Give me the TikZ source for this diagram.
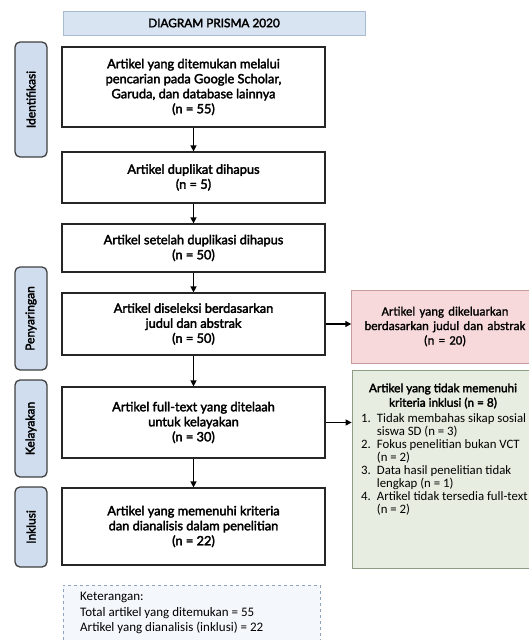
\documentclass[tikz,border=0pt]{standalone}
\usepackage{fontspec}
\setmainfont{Lato}
\newfontfamily\medfont[FakeBold=2.6]{Lato}
\newfontfamily\calfont{Carlito}
\newfontfamily\calmed[FakeBold=1.2]{Carlito}
\usetikzlibrary{arrows.meta}
\definecolor{sideblue}{HTML}{CFDDEE}
\definecolor{titleblue}{HTML}{D8E4F1}
\definecolor{titleedge}{HTML}{A9BBD0}
\definecolor{redfill}{HTML}{F7D9DB}
\definecolor{rededge}{HTML}{C79A9C}
\definecolor{greenfill}{HTML}{E7EEE1}
\definecolor{greenedge}{HTML}{8E9C86}
\definecolor{legendfill}{HTML}{F4F7FB}
\definecolor{legendedge}{HTML}{8FA3BC}
\begin{document}
\begin{tikzpicture}[x=1pt,y=-1pt,
  mainbox/.style={draw=black!85, line width=1.2pt, fill=white, minimum width=263pt, align=center,
     font=\medfont\fontsize{12.8}{15}\selectfont, inner sep=2pt},
  sidebox/.style={draw=black!75, line width=1.3pt, fill=sideblue, rounded corners=5pt,
     minimum height=32pt, rotate=90, font=\medfont\fontsize{12}{12}\selectfont, inner sep=0pt},
  arr/.style={-{Triangle[length=6pt,width=6pt]}, line width=1.3pt, black}
]
\useasboundingbox (0,0) rectangle (529,640);
% title
\node[fill=titleblue, draw=titleedge, line width=0.6pt, minimum width=302pt, minimum height=24pt,
  font=\medfont\fontsize{11.8}{12}\selectfont] (title) at (214,23) {DIAGRAM PRISMA 2020};
% side labels
\node[sidebox, minimum width=115pt] (s1) at (31,99.5) {Identifikasi};
\node[sidebox, minimum width=103pt] (s2) at (31,318.5) {Penyaringan};
\node[sidebox, minimum width=97pt] (s3) at (31,428.5) {Kelayakan};
\node[sidebox, minimum width=80pt] (s4) at (31,527) {Inklusi};
% main boxes
\node[mainbox, minimum height=80pt] (b1) at (193.5,87) {Artikel yang ditemukan melalui\\pencarian pada Google Scholar,\\Garuda, dan database lainnya\\(n = 55)};
\node[mainbox, minimum height=51pt] (b2) at (193.5,177.5) {Artikel duplikat dihapus\\(n = 5)};
\node[mainbox, minimum height=48pt] (b3) at (193.5,248) {Artikel setelah duplikasi dihapus\\(n = 50)};
\node[mainbox, minimum height=62pt] (b4) at (193.5,324) {Artikel diseleksi berdasarkan\\judul dan abstrak\\(n = 50)};
\node[mainbox, minimum height=71pt] (b5) at (193.5,422.5) {Artikel full-text yang ditelaah\\untuk kelayakan\\(n = 30)};
\node[mainbox, minimum height=77pt] (b6) at (193.5,526.5) {Artikel yang memenuhi kriteria\\dan dianalisis dalam penelitian\\(n = 22)};
% arrows
\draw[arr] (b1) -- (b2);
\draw[arr] (b2) -- (b3);
\draw[arr] (b3) -- (b4);
\draw[arr] (b4) -- (b5);
\draw[arr] (b5) -- (b6);
% red box
\node[fill=redfill, draw=rededge, line width=0.8pt, minimum width=186pt, minimum height=73pt,
  align=center, font=\calmed\fontsize{12.8}{14.5}\selectfont, text width=180pt] (rbox) at (445,326.5)
  {Artikel yang dikeluarkan\\berdasarkan judul dan abstrak\\(n = 20)};
\draw[arr] (b4.east) -- (b4.east -| rbox.west);
% green box
\node[fill=greenfill, draw=greenedge, line width=0.8pt, minimum width=186pt, minimum height=198pt] (gbox) at (445,469) {};
\node[align=center, font=\medfont\fontsize{11.8}{14.5}\selectfont] (gtitle) at (443,396)
  {Artikel yang tidak memenuhi\\kriteria inklusi (n = 8)};
\node[anchor=north west, inner sep=0pt, font=\calfont\fontsize{12.8}{12.8}\selectfont] (glist) at (361,413)
  {\begin{tabular}{@{}r@{\hspace{6pt}}l@{}}
   1. & Tidak membahas sikap sosial\\
      & siswa SD (n = 3)\\
   2. & Fokus penelitian bukan VCT\\
      & (n = 2)\\
   3. & Data hasil penelitian tidak\\
      & lengkap (n = 1)\\
   4. & Artikel tidak tersedia full-text\\
      & (n = 2)
  \end{tabular}};
\draw[arr] (b5.east) -- (b5.east -| gbox.west);
% legend
\node[fill=legendfill, draw=legendedge, dashed, line width=0.8pt, minimum width=257pt, minimum height=70pt] (legend) at (191.5,620) {};
\node[anchor=north west, align=left, inner sep=0pt, font=\calfont\fontsize{13}{15.5}\selectfont] (ltext) at (80,592)
  {Keterangan:\\Total artikel yang ditemukan = 55\\Artikel yang dianalisis (inklusi) = 22};
\end{tikzpicture}
\end{document}
